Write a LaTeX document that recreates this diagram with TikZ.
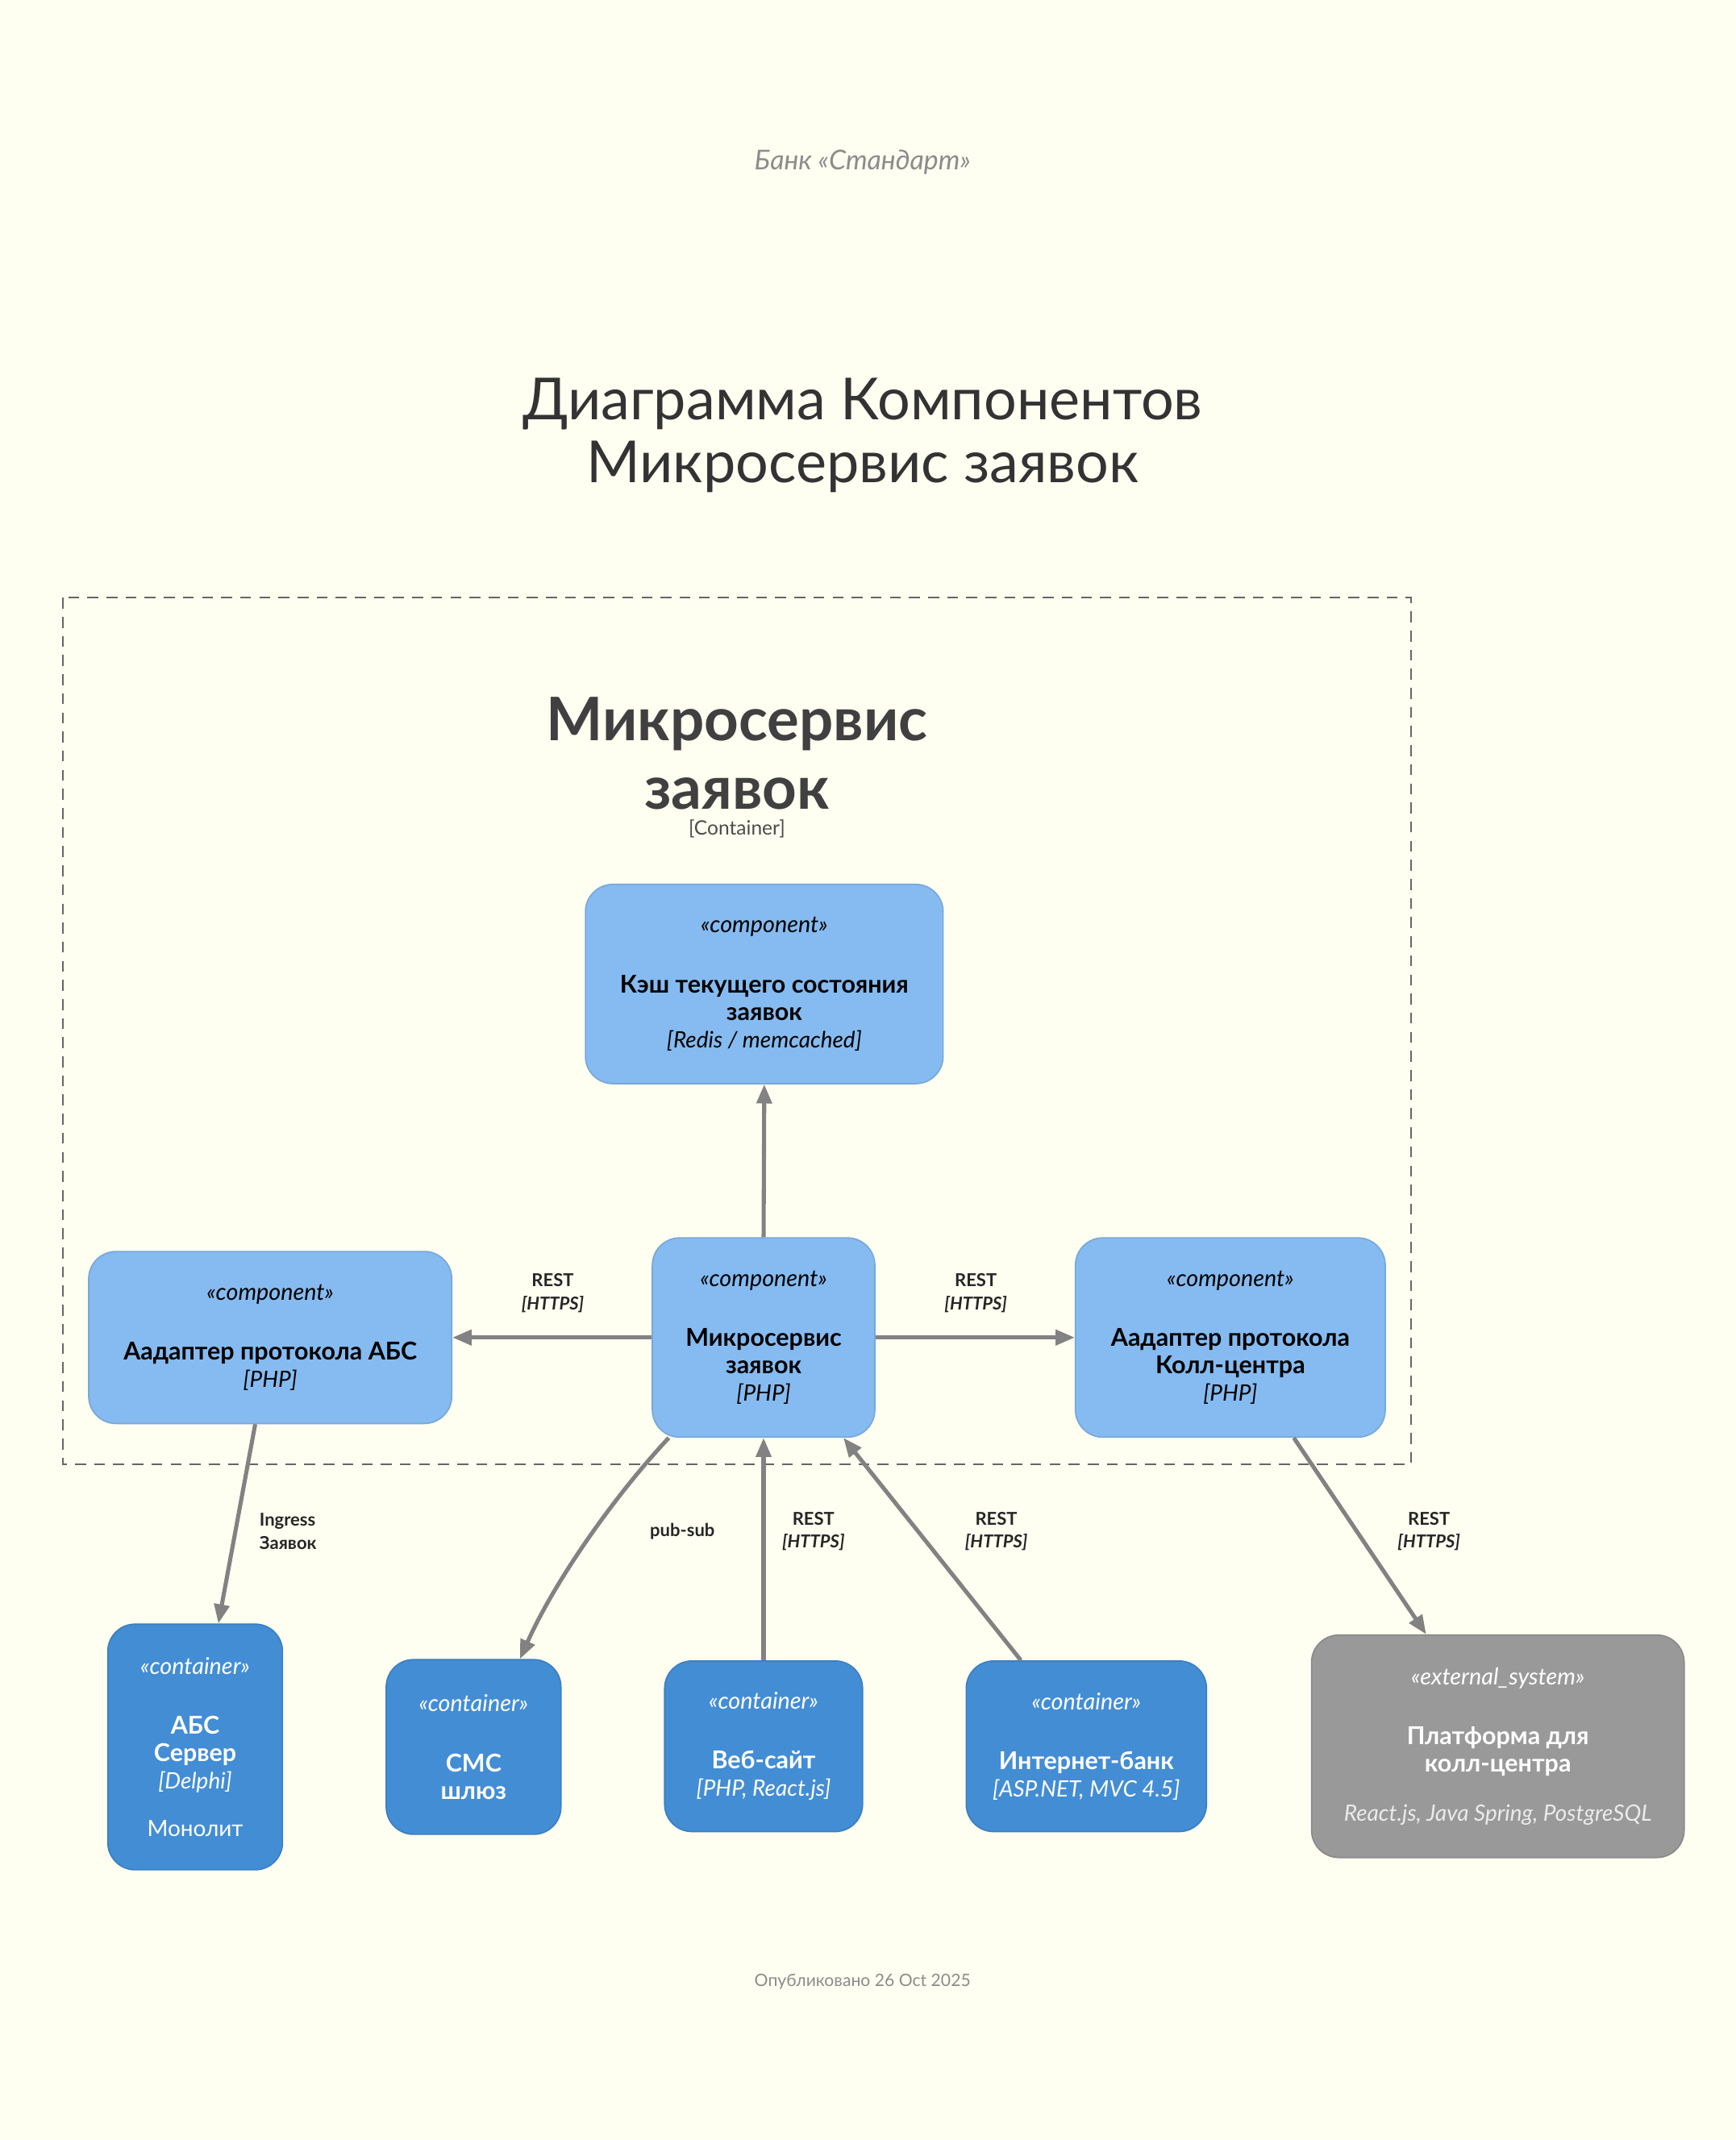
\documentclass[tikz,border=0pt]{standalone}
\usepackage{fontspec}
\setmainfont{Lato}
\usepackage{tikz}
\usetikzlibrary{arrows.meta}
\usetikzlibrary{positioning}

\definecolor{bgcol}{HTML}{FEFEF1}
\definecolor{compfill}{HTML}{85BBF0}
\definecolor{compline}{HTML}{78A8D8}
\definecolor{contfill}{HTML}{438DD5}
\definecolor{contline}{HTML}{3C7FC0}
\definecolor{extfill}{HTML}{999999}
\definecolor{extline}{HTML}{8A8A8A}
\definecolor{relcol}{HTML}{828282}
\definecolor{titlecol}{HTML}{333333}

\newcommand{\stereotxt}[1]{{\fontsize{17}{20}\itshape\selectfont «#1»}}
\newcommand{\nametxt}[1]{{\fontsize{18}{20}\bfseries\selectfont #1}}
\newcommand{\techtxt}[1]{{\fontsize{16.5}{20}\itshape\selectfont #1}}

\begin{document}
\begin{tikzpicture}[x=1pt,y=-1pt,
    comp/.style={draw=compline, fill=compfill, line width=1pt, rounded corners=20pt,
      align=center, inner sep=0pt, text=black, font=\fontsize{16.5}{20}\selectfont},
    cont/.style={comp, draw=contline, fill=contfill, text=white},
    extsys/.style={comp, draw=extline, fill=extfill, text=white},
    rel/.style={draw=relcol, line width=3pt, -{Triangle[length=14pt,width=11pt]}},
    rellabel/.style={align=center, inner sep=0pt, text=black!85,
      font=\fontsize{13}{17}\bfseries\selectfont}]
    \fill[bgcol] (0,0) rectangle (1272,1568);
    \useasboundingbox (0,0) rectangle (1272,1568);

    % header
    \node[text=black!45, font=\fontsize{20}{24}\itshape\selectfont] (bank) at (632,119) {Банк «Стандарт»};
    \node[text=titlecol, align=center, font=\fontsize{42.5}{46}\selectfont] (title) at (632,319)
      {Диаграмма Компонентов\\Микросервис заявок};

    % boundary
    \draw[black!60, line width=1.2pt, dash pattern=on 8pt off 6pt] (46,438) rectangle (1034,1073);
    \node[text=black!75, align=center, font=\fontsize{44}{50}\bfseries\selectfont] (bnd) at (540,552)
      {Микросервис\\заявок};
    \node[text=black!70, font=\fontsize{14.5}{17}\selectfont] (bndtype) at (540,607) {[Container]};

    % components
    \node[comp, minimum width=262pt, minimum height=146pt] (cache) at (560,721)
      {\stereotxt{component}\\[24pt]\nametxt{Кэш текущего состояния}\\\nametxt{заявок}\\\techtxt{[Redis / memcached]}};
    \node[comp, minimum width=163pt, minimum height=146pt] (msvc) at (559.5,980)
      {\stereotxt{component}\\[24pt]\nametxt{Микросервис}\\\nametxt{заявок}\\\techtxt{[PHP]}};
    \node[comp, minimum width=266pt, minimum height=126pt] (absad) at (198,980)
      {\stereotxt{component}\\[24pt]\nametxt{Аадаптер протокола АБС}\\\techtxt{[PHP]}};
    \node[comp, minimum width=227pt, minimum height=146pt] (ccad) at (901.5,980)
      {\stereotxt{component}\\[24pt]\nametxt{Аадаптер протокола}\\\nametxt{Колл-центра}\\\techtxt{[PHP]}};

    % containers
    \node[cont, minimum width=128pt, minimum height=180pt] (abs) at (143,1280)
      {\stereotxt{container}\\[24pt]\nametxt{АБС}\\\nametxt{Сервер}\\\techtxt{[Delphi]}\\[15pt]Монолит};
    \node[cont, minimum width=128pt, minimum height=128pt] (sms) at (347,1280)
      {\stereotxt{container}\\[24pt]\nametxt{СМС}\\\nametxt{шлюз}};
    \node[cont, minimum width=145pt, minimum height=125pt] (web) at (559.5,1279.5)
      {\stereotxt{container}\\[24pt]\nametxt{Веб-сайт}\\\techtxt{[PHP, React.js]}};
    \node[cont, minimum width=176pt, minimum height=125pt] (ibank) at (796,1279.5)
      {\stereotxt{container}\\[24pt]\nametxt{Интернет-банк}\\\techtxt{[ASP.NET, MVC 4.5]}};
    \node[extsys, minimum width=273pt, minimum height=163pt] (ext) at (1097.5,1279.5)
      {\stereotxt{external\_system}\\[24pt]\nametxt{Платформа для}\\\nametxt{колл-центра}\\[16pt]{\color{white!92!black}\techtxt{React.js, Java Spring, PostgreSQL}}};

    % relations
    \path[rel] (msvc.north) -- (cache.south);
    \path[rel] (msvc.west) -- (absad.east);
    \path[rel] (msvc.east) -- (ccad.west);
    \path[rel] ([xshift=-11pt]absad.south) -- ([xshift=17pt]abs.north);
    \path[rel] ([xshift=-69.5pt]msvc.south) to[out=227, in=66, looseness=0.8] ([xshift=34pt]sms.north);
    \path[rel] (web.north) -- (msvc.south);
    \path[rel] ([xshift=-48pt]ibank.north) -- ([xshift=58.5pt]msvc.south);
    \path[rel] ([xshift=46.5pt]ccad.south) -- ([xshift=-52.5pt]ext.north);

    % relation labels
    \node[rellabel] (lababs) at (405,947.5) {REST\\\textit{[HTTPS]}};
    \node[rellabel] (labcc) at (715,947.5) {REST\\\textit{[HTTPS]}};
    \node[rellabel, align=left, anchor=west] (labingress) at (190,1122) {Ingress\\Заявок};
    \node[rellabel] (labsms) at (500,1122) {pub-sub};
    \node[rellabel] (labweb) at (596,1122) {REST\\\textit{[HTTPS]}};
    \node[rellabel] (labibank) at (730,1122) {REST\\\textit{[HTTPS]}};
    \node[rellabel] (labext) at (1047,1122) {REST\\\textit{[HTTPS]}};

    % footer
    \node[text=black!45, font=\fontsize{12.5}{16}\selectfont] (footer) at (632,1452) {Опубликовано 26 Oct 2025};
  \end{tikzpicture}
\end{document}
